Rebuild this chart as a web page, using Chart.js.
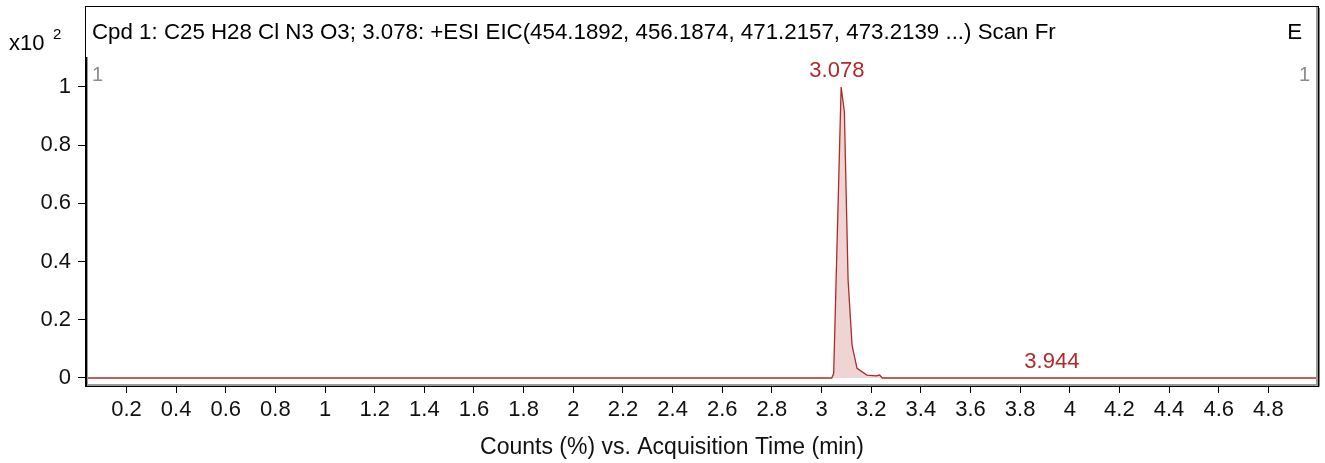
<!DOCTYPE html>
<html>
<head>
<meta charset="utf-8">
<script src="https://cdn.jsdelivr.net/npm/chart.js@4.4.1/dist/chart.umd.min.js"></script>
<style>
  html, body { margin: 0; padding: 0; background: #fff; }
  #wrap { width: 1325px; height: 463px; position: relative; }
</style>
</head>
<body>
<div id="wrap"><canvas id="eic"></canvas></div>
<script>
// EIC trace (time in min, counts x10^2)
const times  = [0.037, 3.041, 3.049, 3.079, 3.092, 3.107, 3.123, 3.143, 3.183, 3.220, 3.234, 3.245, 5.0];
const counts = [0,     0,     0.016, 1.0,   0.915, 0.337, 0.113, 0.033, 0.010, 0.007, 0.010, 0,     0];

const xTicks = [0.2, 0.4, 0.6, 0.8, 1, 1.2, 1.4, 1.6, 1.8, 2, 2.2, 2.4, 2.6, 2.8, 3, 3.2, 3.4, 3.6, 3.8, 4, 4.2, 4.4, 4.6, 4.8];
const yTicks = [0, 0.2, 0.4, 0.6, 0.8, 1];

// labelled peaks
const peakTimes  = [3.078, 3.944];
const peakLabelY = [1.0, 0.0];
const peakLabels = ['3.078', '3.944'];

const titleText = 'Cpd 1: C25 H28 Cl N3 O3; 3.078: +ESI EIC(454.1892, 456.1874, 471.2157, 473.2139 ...) Scan Fr';
const xAxisTitle = 'Counts (%) vs. Acquisition Time (min)';

const FONT = '"Liberation Sans", Arial, sans-serif';
const RED = '#b02a2a';

const framePlugin = {
    id: 'frame',
    afterDraw(chart) {
        const ctx = chart.ctx;
        const a = chart.chartArea;
        const xs = chart.scales.x;
        const ys = chart.scales.y;
        const top = 6;
        ctx.save();

        // outer box incl. title strip
        ctx.strokeStyle = '#000';
        ctx.lineWidth = 1;
        ctx.strokeRect(a.left - 0.5, top + 0.5, a.right - a.left + 1, a.bottom - top);

        // shadow-ish double lines
        ctx.strokeStyle = '#9a9a9a';
        ctx.lineWidth = 2;
        ctx.beginPath();
        ctx.moveTo(a.left + 1, a.top);
        ctx.lineTo(a.left + 1, a.bottom - 1);
        ctx.lineTo(a.right - 1, a.bottom - 1);
        ctx.lineTo(a.right - 1, top + 1);
        ctx.stroke();
        ctx.strokeStyle = '#000';
        ctx.lineWidth = 1;
        ctx.beginPath();
        ctx.moveTo(a.left + 0.5, a.top);
        ctx.lineTo(a.left + 0.5, a.bottom);
        ctx.moveTo(a.left, a.bottom + 0.5);
        ctx.lineTo(a.right + 1, a.bottom + 0.5);
        ctx.lineTo(a.right + 1, top + 2);
        ctx.stroke();

        // title strip text
        ctx.fillStyle = '#000';
        ctx.textBaseline = 'middle';
        ctx.font = '22.3px ' + FONT;
        ctx.textAlign = 'left';
        ctx.fillText(titleText, a.left + 6, 33);
        ctx.textAlign = 'right';
        ctx.fillText('E', a.right - 16, 33);

        // multiplier x10^2
        ctx.textAlign = 'left';
        ctx.font = '22px ' + FONT;
        ctx.fillText('x10', 9, 44);
        ctx.font = '15px ' + FONT;
        ctx.fillText('2', 53, 35);

        // x axis title (sits a bit left of the plot centre in the original)
        ctx.fillStyle = '#111';
        ctx.font = '23px ' + FONT;
        ctx.textAlign = 'center';
        ctx.fillText(xAxisTitle, 672, 448);

        // grey "1" markers
        ctx.fillStyle = '#8c8c8c';
        ctx.font = '20px ' + FONT;
        ctx.textAlign = 'left';
        ctx.fillText('1', a.left + 6, 75);
        ctx.textAlign = 'right';
        ctx.fillText('1', a.right - 8, 75);

        // peak labels
        ctx.fillStyle = RED;
        ctx.font = '22px ' + FONT;
        ctx.textAlign = 'center';
        ctx.textBaseline = 'bottom';
        peakLabels.forEach((t, i) => {
            ctx.fillText(t, xs.getPixelForValue(peakTimes[i]) - 4, ys.getPixelForValue(peakLabelY[i]) - 5);
        });
        ctx.restore();
    }
};

const fmt = v => String(+Number(v).toFixed(1));

new Chart(document.getElementById('eic'), {
    type: 'scatter',
    data: {
        datasets: [{
            data: times.map((t, i) => ({ x: t, y: counts[i] })),
            showLine: true,
            borderColor: RED,
            borderWidth: 1.3,
            backgroundColor: 'rgba(176, 42, 42, 0.2)',
            fill: 'origin',
            pointRadius: 0,
            tension: 0
        }]
    },
    options: {
        responsive: true,
        maintainAspectRatio: false,
        animation: false,
        layout: { padding: { top: 57, right: 7, left: 0, bottom: 0 } },
        plugins: {
            legend: { display: false },
            tooltip: { enabled: false }
        },
        scales: {
            x: {
                type: 'linear',
                min: 0.037,
                max: 5.0,
                afterBuildTicks: s => { s.ticks = xTicks.map(v => ({ value: v })); },
                afterFit: s => { s.height = 77; },
                grid: { drawOnChartArea: false, tickLength: 7, color: '#000', tickWidth: 1 },
                border: { display: false },
                ticks: {
                    color: '#111',
                    font: { family: FONT, size: 22 },
                    padding: 4,
                    maxRotation: 0,
                    autoSkip: false,
                    callback: fmt
                },
                title: { display: false }
            },
            y: {
                type: 'linear',
                min: -0.0275,
                max: 1.103,
                afterBuildTicks: s => { s.ticks = yTicks.map(v => ({ value: v })); },
                afterFit: s => { s.width = 86; },
                grid: { drawOnChartArea: false, tickLength: 8, color: '#000', tickWidth: 1 },
                border: { display: false },
                ticks: {
                    color: '#111',
                    font: { family: FONT, size: 22 },
                    padding: 7,
                    callback: fmt
                }
            }
        }
    },
    plugins: [framePlugin]
});
</script>
</body>
</html>
